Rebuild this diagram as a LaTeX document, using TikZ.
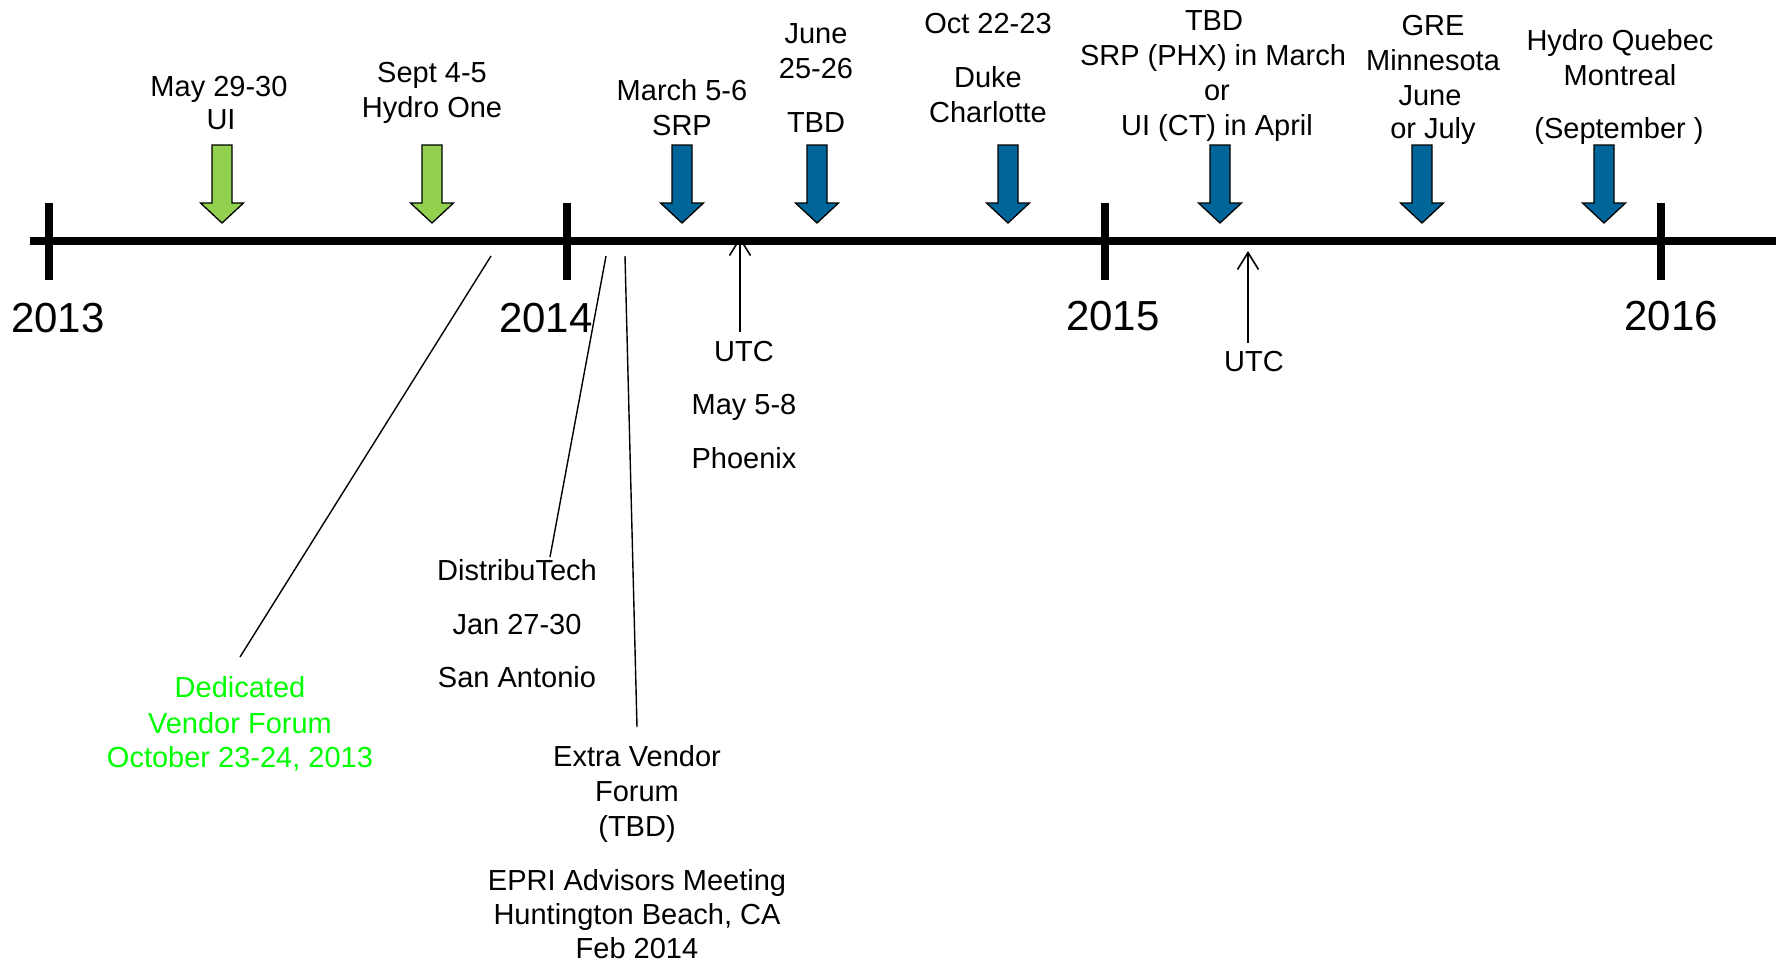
\documentclass[tikz,border=0pt]{standalone}
\usepackage{fontspec}
\setmainfont{Liberation Sans}
\usetikzlibrary{arrows.meta}
\definecolor{evgreen}{HTML}{92D050}
\definecolor{evblue}{HTML}{006699}
\definecolor{vendgreen}{HTML}{00FF00}
\tikzset{
  lbl/.style={font=\fontsize{29}{35}\selectfont, inner sep=0pt, anchor=base},
  yearlbl/.style={font=\fontsize{42}{48}\selectfont, inner sep=0pt, anchor=base},
  axisline/.style={line width=8pt},
  tickline/.style={line width=8pt},
  leader/.style={line width=1.4pt},
  utcarrow/.style={line width=1.6pt, -{Straight Barb[length=17pt,width=21pt,line width=1.6pt]}},
  arrowbox/.style={draw=black, line width=1.3pt, line join=miter}
}
\newcommand{\evarrow}[3]{%
  \draw[arrowbox, fill=#2] (#1-10,145) -- (#1+10,145) -- (#1+10,203) -- (#1+21.5,203)
    -- (#1,223) -- (#1-21.5,203) -- (#1-10,203) -- cycle;
  \coordinate (#3) at (#1,223);}
\begin{document}
\begin{tikzpicture}[x=1pt, y=-1pt]
\useasboundingbox (0,0) rectangle (1781,962);

% timeline
\coordinate (tl0) at (30,241);
\coordinate (tl1) at (1776,241);
\draw[axisline] (tl0) -- (tl1);
\foreach \xx/\nm in {49/t13, 567/t14, 1105/t15, 1661/t16}{
  \coordinate (\nm a) at (\xx,203);
  \coordinate (\nm b) at (\xx,280);
  \draw[tickline] (\nm a) -- (\nm b);
}

% years
\node[yearlbl] (y2013) at (58,332) {2013};
\node[yearlbl] (y2014) at (546,332) {2014};
\node[yearlbl] (y2015) at (1113,330) {2015};
\node[yearlbl] (y2016) at (1671,330) {2016};

% event arrows
\evarrow{222}{evgreen}{ga1}
\evarrow{432}{evgreen}{ga2}
\evarrow{682}{evblue}{ba1}
\evarrow{817}{evblue}{ba2}
\evarrow{1008}{evblue}{ba3}
\evarrow{1220}{evblue}{ba4}
\evarrow{1422}{evblue}{ba5}
\evarrow{1604}{evblue}{ba6}

% labels above
\node[lbl] (may1) at (219,96) {May 29-30};
\node[lbl] (may2) at (221,129) {UI};
\node[lbl] (sep1) at (432,82) {Sept 4-5};
\node[lbl] (sep2) at (432,117) {Hydro One};
\node[lbl] (mar1) at (682,100) {March 5-6};
\node[lbl] (mar2) at (682,135) {SRP};
\node[lbl] (jun1) at (816,43) {June};
\node[lbl] (jun2) at (816,78) {25-26};
\node[lbl] (jun3) at (816,132) {TBD};
\node[lbl] (oct1) at (988,33) {Oct 22-23};
\node[lbl] (oct2) at (988,87) {Duke};
\node[lbl] (oct3) at (988,122) {Charlotte};
\node[lbl] (tbd1) at (1214,30) {TBD};
\node[lbl] (tbd2) at (1213,65) {SRP (PHX) in March};
\node[lbl] (tbd3) at (1217,100) {or};
\node[lbl] (tbd4) at (1217,135) {UI (CT) in April};
\node[lbl] (gre1) at (1433,35) {GRE};
\node[lbl] (gre2) at (1433,70) {Minnesota};
\node[lbl] (gre3) at (1430,105) {June};
\node[lbl] (gre4) at (1433,138) {or July};
\node[lbl] (hq1) at (1620,50) {Hydro Quebec};
\node[lbl] (hq2) at (1620,85) {Montreal};
\node[lbl] (hq3) at (1619,138) {(September )};

% UTC
\node[lbl] (utc1) at (744,361) {UTC};
\node[lbl] (utc1b) at (744,414) {May 5-8};
\node[lbl] (utc1c) at (744,468) {Phoenix};
\coordinate (utc1base) at (740,332);
\coordinate (utc1tip) at (740,237);
\draw[utcarrow] (utc1base) -- (utc1tip);

\node[lbl] (utc2) at (1254,371) {UTC};
\coordinate (utc2base) at (1248,343);
\coordinate (utc2tip) at (1248,251);
\draw[utcarrow] (utc2base) -- (utc2tip);

% Dedicated vendor forum
\node[lbl, text=vendgreen] (ded1) at (240,697) {Dedicated};
\node[lbl, text=vendgreen] (ded2) at (240,733) {Vendor Forum};
\node[lbl, text=vendgreen] (ded3) at (240,767) {October 23-24, 2013};
\coordinate (dedtop) at (491,256);
\coordinate (dedbot) at (240,657);
\draw[leader] (dedtop) -- (dedbot);

% DistribuTech
\node[lbl] (dt1) at (517,580) {DistribuTech};
\node[lbl] (dt2) at (517,634) {Jan 27-30};
\node[lbl] (dt3) at (517,687) {San Antonio};
\coordinate (dttop) at (606,256);
\coordinate (dtbot) at (550,557);
\draw[leader] (dttop) -- (dtbot);

% Extra vendor forum
\node[lbl] (ev1) at (637,766) {Extra Vendor};
\node[lbl] (ev2) at (637,801) {Forum};
\node[lbl] (ev3) at (637,836) {(TBD)};
\coordinate (evtop) at (625,256);
\coordinate (evbot) at (637,727);
\draw[leader] (evtop) -- (evbot);

% EPRI
\node[lbl] (ep1) at (637,890) {EPRI Advisors Meeting};
\node[lbl] (ep2) at (637,924) {Huntington Beach, CA};
\node[lbl] (ep3) at (637,958) {Feb 2014};
\end{tikzpicture}
\end{document}
